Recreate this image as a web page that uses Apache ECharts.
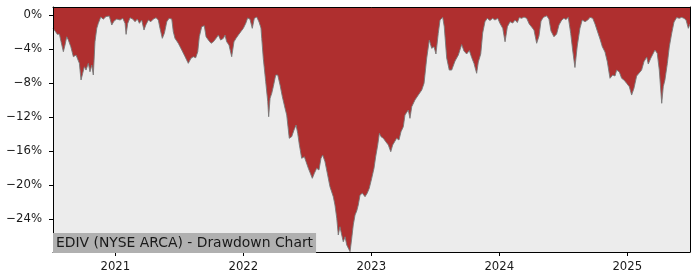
<!DOCTYPE html>
<html>
<head>
<meta charset="utf-8">
<script src="https://cdn.jsdelivr.net/npm/echarts@6/dist/echarts.min.js"></script>
<style>
  html, body { margin: 0; padding: 0; background: #ffffff; }
  #chart { width: 700px; height: 280px; }
</style>
</head>
<body>
<div id="chart"></div>
<script>
// Dates expressed as decimal years
const dates = [
  2020.513, 2020.533, 2020.547, 2020.563, 2020.576, 2020.594, 2020.607, 2020.620, 2020.633, 2020.652,
  2020.672, 2020.693, 2020.706, 2020.719, 2020.732, 2020.745, 2020.758, 2020.771, 2020.789, 2020.802,
  2020.816, 2020.828, 2020.841, 2020.855, 2020.867, 2020.886, 2020.906, 2020.927, 2020.953, 2020.972,
  2020.990, 2021.011, 2021.037, 2021.058, 2021.076, 2021.084, 2021.097, 2021.115, 2021.136, 2021.154,
  2021.172, 2021.188, 2021.206, 2021.224, 2021.238, 2021.258, 2021.277, 2021.297, 2021.318, 2021.336,
  2021.349, 2021.367, 2021.383, 2021.402, 2021.420, 2021.441, 2021.453, 2021.466, 2021.492, 2021.519,
  2021.545, 2021.570, 2021.591, 2021.609, 2021.628, 2021.644, 2021.656, 2021.675, 2021.695, 2021.709,
  2021.727, 2021.748, 2021.766, 2021.787, 2021.805, 2021.823, 2021.844, 2021.857, 2021.870, 2021.888,
  2021.909, 2021.927, 2021.943, 2021.961, 2021.980, 2022.000, 2022.019, 2022.034, 2022.052, 2022.070,
  2022.086, 2022.105, 2022.123, 2022.138, 2022.144, 2022.156, 2022.175, 2022.191, 2022.198, 2022.209,
  2022.222, 2022.234, 2022.253, 2022.269, 2022.287, 2022.305, 2022.326, 2022.339, 2022.352, 2022.359,
  2022.378, 2022.396, 2022.412, 2022.425, 2022.438, 2022.456, 2022.477, 2022.490, 2022.508, 2022.529,
  2022.539, 2022.555, 2022.573, 2022.591, 2022.607, 2022.620, 2022.638, 2022.659, 2022.677, 2022.691,
  2022.703, 2022.716, 2022.730, 2022.742, 2022.755, 2022.769, 2022.781, 2022.795, 2022.808, 2022.820,
  2022.834, 2022.847, 2022.859, 2022.873, 2022.886, 2022.898, 2022.912, 2022.930, 2022.951, 2022.969,
  2022.984, 2023.003, 2023.021, 2023.034, 2023.050, 2023.063, 2023.076, 2023.094, 2023.113, 2023.133,
  2023.152, 2023.167, 2023.180, 2023.198, 2023.216, 2023.232, 2023.250, 2023.263, 2023.289, 2023.302,
  2023.316, 2023.341, 2023.367, 2023.394, 2023.412, 2023.433, 2023.453, 2023.472, 2023.490, 2023.505,
  2023.523, 2023.537, 2023.558, 2023.570, 2023.589, 2023.609, 2023.628, 2023.654, 2023.680, 2023.706,
  2023.724, 2023.745, 2023.766, 2023.784, 2023.802, 2023.823, 2023.836, 2023.855, 2023.870, 2023.888,
  2023.906, 2023.927, 2023.948, 2023.966, 2023.988, 2024.005, 2024.027, 2024.045, 2024.063, 2024.084,
  2024.105, 2024.123, 2024.141, 2024.156, 2024.175, 2024.193, 2024.214, 2024.234, 2024.253, 2024.271,
  2024.292, 2024.310, 2024.326, 2024.344, 2024.370, 2024.388, 2024.404, 2024.427, 2024.448, 2024.466,
  2024.488, 2024.505, 2024.521, 2024.539, 2024.558, 2024.573, 2024.591, 2024.609, 2024.630, 2024.648,
  2024.670, 2024.691, 2024.709, 2024.730, 2024.748, 2024.766, 2024.787, 2024.805, 2024.826, 2024.844,
  2024.865, 2024.886, 2024.904, 2024.917, 2024.938, 2024.956, 2024.974, 2024.995, 2025.016, 2025.034,
  2025.052, 2025.073, 2025.091, 2025.112, 2025.130, 2025.152, 2025.164, 2025.183, 2025.198, 2025.216,
  2025.234, 2025.250, 2025.269, 2025.281, 2025.294, 2025.313, 2025.328, 2025.347, 2025.365, 2025.386,
  2025.406, 2025.425, 2025.443, 2025.459, 2025.477, 2025.490
];

// Drawdown in percent
const drawdown = [
  -1.53, -1.93, -2.24, -2.20, -3.11, -4.28, -3.49, -2.52, -2.91, -3.69,
  -4.87, -4.67, -4.47, -5.65, -7.61, -6.82, -6.05, -6.44, -5.65, -6.64,
  -5.85, -7.02, -3.11, -1.53, -0.94, -0.20, -0.45, -0.15, -0.08, -1.14,
  -0.67, -0.44, -0.55, -0.35, -0.94, -2.24, -0.94, -0.28, -0.44, -0.75,
  -0.44, -0.94, -0.55, -1.73, -1.14, -0.55, -0.75, -0.44, -0.28, -0.55,
  -1.53, -2.71, -2.12, -0.75, -0.35, -0.44, -1.93, -2.71, -3.29, -4.08,
  -4.87, -5.65, -5.06, -4.87, -4.99, -4.28, -2.52, -1.34, -1.22, -2.52,
  -2.91, -3.29, -3.11, -2.71, -2.32, -2.91, -2.71, -2.32, -3.11, -3.49,
  -4.87, -3.11, -2.71, -2.32, -1.93, -1.53, -0.94, -0.30, -0.45, -1.53,
  -0.35, -0.20, -0.79, -1.49, -2.71, -5.06, -7.81, -10.16, -11.93, -9.76,
  -9.18, -8.40, -7.02, -7.02, -8.20, -9.58, -10.94, -11.73, -13.49, -14.47,
  -14.28, -13.49, -12.91, -13.88, -15.26, -16.82, -16.64, -17.22, -18.00, -18.79,
  -19.18, -18.59, -18.00, -18.20, -16.82, -16.44, -17.22, -18.79, -20.16, -20.35,
  -21.34, -22.32, -23.88, -25.85, -24.87, -25.85, -26.64, -26.05, -27.02, -26.82,
  -27.81, -26.24, -24.67, -23.49, -23.02, -22.32, -21.14, -20.94, -21.34, -20.90,
  -20.35, -19.18, -18.00, -16.64, -15.26, -13.88, -14.28, -14.47, -14.87, -15.26,
  -16.05, -15.26, -15.46, -14.47, -14.67, -13.69, -13.11, -11.73, -11.14, -12.12,
  -10.75, -9.96, -9.38, -8.79, -8.00, -5.02, -2.91, -3.88, -3.69, -4.55,
  -2.12, -0.55, -0.24, -1.34, -5.02, -6.44, -6.44, -5.38, -4.67, -3.44,
  -4.20, -4.55, -4.14, -4.96, -5.65, -6.82, -5.49, -4.55, -2.08, -0.75,
  -0.35, -0.61, -0.35, -0.55, -0.35, -0.94, -1.53, -3.11, -1.34, -0.75,
  -0.91, -0.55, -0.85, -0.26, -0.35, -0.20, -0.35, -1.02, -1.38, -1.73,
  -3.29, -2.44, -0.67, -0.24, -0.06, -0.44, -1.85, -2.52, -2.20, -1.14,
  -0.55, -0.35, -0.49, -0.24, -2.12, -4.08, -6.14, -3.61, -1.53, -0.55,
  -0.75, -0.55, -0.24, -0.35, -1.02, -1.85, -2.79, -3.69, -4.32, -5.46,
  -7.41, -7.02, -7.14, -6.44, -6.67, -7.41, -7.61, -8.00, -8.40, -9.38,
  -8.59, -7.14, -6.82, -6.44, -5.46, -4.91, -5.73, -5.06, -5.26, -4.08,
  -4.47, -6.44, -10.35, -8.40, -7.61, -5.65, -3.73, -2.12, -0.79, -0.26,
  -0.35, -0.24, -0.35, -0.55, -1.53, -1.02
];

const yTicks = [0, -4, -8, -12, -16, -20, -24];
const xTicks = [2021, 2022, 2023, 2024, 2025];
const titleText = 'EDIV (NYSE ARCA) - Drawdown Chart';

const seriesData = dates.map((d, i) => [d, drawdown[i]]);

const chart = echarts.init(document.getElementById('chart'), null, { renderer: 'canvas' });
const FONT = 'DejaVu Sans';

chart.setOption({
  animation: false,
  backgroundColor: '#ffffff',
  title: {
    text: titleText,
    left: 53,
    top: 233,
    padding: [2, 3, 1, 3],
    backgroundColor: '#b0b0b0',
    textStyle: {
      fontFamily: FONT,
      fontSize: 13.9,
      fontWeight: 'normal',
      color: '#1a1a1a',
      lineHeight: 17
    },
    z: 20
  },
  grid: {
    left: 53,
    right: 10,
    top: 7,
    bottom: 28,
    show: true,
    backgroundColor: '#ececec',
    borderWidth: 0
  },
  xAxis: [{
    type: 'value',
    min: 2020.513,
    max: 2025.490,
    z: 10,
    splitLine: { show: false },
    axisLine: { show: true, onZero: false, lineStyle: { color: '#000', width: 1 } },
    axisTick: { show: true, length: 4, lineStyle: { color: '#000' }, customValues: xTicks },
    axisLabel: {
      customValues: xTicks,
      margin: 9,
      fontFamily: FONT,
      fontSize: 11.7,
      color: '#1a1a1a',
      formatter: v => String(Math.round(v))
    }
  }, {
    type: 'value',
    position: 'top',
    min: 2020.513,
    max: 2025.490,
    z: 10,
    splitLine: { show: false },
    axisLine: { show: true, onZero: false, lineStyle: { color: '#000', width: 1 } },
    axisTick: { show: false },
    axisLabel: { show: false }
  }],
  yAxis: [{
    type: 'value',
    min: -27.85,
    max: 0.98,
    z: 10,
    splitLine: { show: false },
    axisLine: { show: true, onZero: false, lineStyle: { color: '#000', width: 1 } },
    axisTick: { show: true, length: 4, lineStyle: { color: '#000' }, customValues: yTicks },
    axisLabel: {
      customValues: yTicks,
      margin: 11,
      fontFamily: FONT,
      fontSize: 11.7,
      color: '#1a1a1a',
      formatter: v => (v < 0 ? '\u2212' + Math.abs(v) : String(v)) + '%'
    }
  }, {
    type: 'value',
    position: 'right',
    min: -27.85,
    max: 0.98,
    z: 10,
    splitLine: { show: false },
    axisLine: { show: true, onZero: false, lineStyle: { color: '#000', width: 1 } },
    axisTick: { show: false },
    axisLabel: { show: false }
  }],
  series: [{
    type: 'line',
    data: seriesData,
    xAxisIndex: 0,
    yAxisIndex: 0,
    showSymbol: false,
    symbol: 'none',
    smooth: false,
    z: 2,
    lineStyle: { color: 'rgba(120,120,120,0.9)', width: 1 },
    areaStyle: { origin: 'end', color: '#af2f2f', opacity: 1 }
  }]
});
</script>
</body>
</html>
